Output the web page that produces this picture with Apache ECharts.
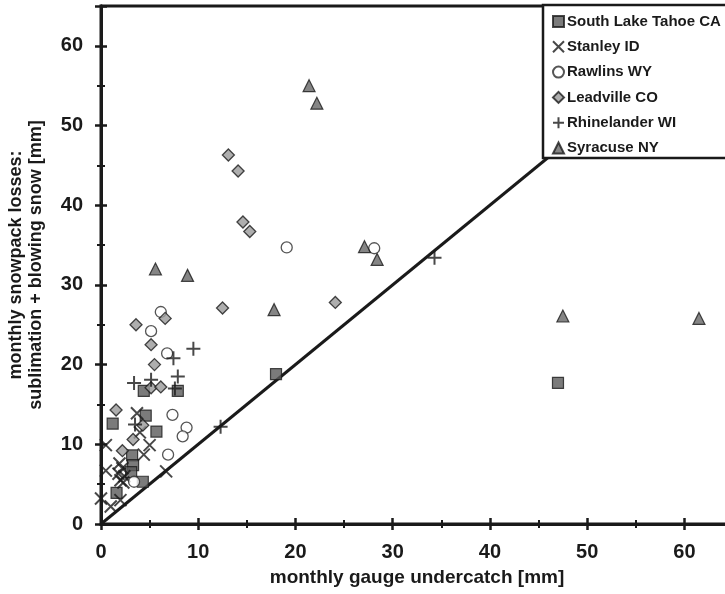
<!DOCTYPE html>
<html>
<head>
<meta charset="utf-8">
<script src="https://cdn.jsdelivr.net/npm/echarts@6/dist/echarts.min.js"></script>
<style>html,body{margin:0;padding:0;background:#fff}#chart{width:725px;height:594px}</style>
</head>
<body>
<div id="chart"></div>
<script>
// Data: [gauge undercatch, snowpack losses]
const southLakeTahoe = [[47.0,17.7],[18.0,18.8],[7.9,16.7],[4.4,16.7],[1.2,12.6],[4.6,13.6],[5.7,11.6],[3.2,8.6],[3.3,7.4],[3.1,6.5],[4.3,5.3],[1.6,3.9]];
const stanley = [[6.7,6.6],[3.7,13.9],[4.0,11.5],[5.0,9.9],[0.5,9.9],[4.4,8.7],[0.5,6.7],[1.9,7.6],[2.2,7.0],[1.8,6.3],[2.4,6.0],[2.0,5.5],[2.3,5.2],[0.0,3.2],[1.0,2.2],[2.0,3.0]];
const rawlins = [[19.1,34.7],[28.1,34.6],[6.15,26.6],[5.15,24.2],[6.8,21.4],[7.35,13.7],[8.8,12.1],[8.4,11.0],[6.9,8.7],[3.4,5.3]];
const leadville = [[13.1,46.3],[14.1,44.3],[14.6,37.9],[15.3,36.7],[12.5,27.1],[24.1,27.8],[3.6,25.0],[6.6,25.8],[5.15,22.5],[5.5,20.0],[5.15,17.1],[6.15,17.2],[1.55,14.3],[4.3,12.4],[3.3,10.6],[2.2,9.2]];
const rhinelander = [[34.3,33.4],[12.3,12.2],[9.5,22.0],[7.45,20.8],[7.9,18.5],[7.6,17.0],[3.4,17.7],[5.15,18.1],[3.5,12.5]];
const syracuse = [[21.4,55.0],[22.2,52.8],[5.6,32.0],[8.9,31.2],[17.8,26.9],[27.1,34.8],[28.4,33.2],[47.5,26.1],[61.5,25.8]];
const oneToOne = [0, 65];
const axisTicks = [0, 10, 20, 30, 40, 50, 60];

const seriesNames = ['South Lake Tahoe CA','Stanley ID','Rawlins WY','Leadville CO','Rhinelander WI','Syracuse NY'];
const FONT = 'Liberation Sans, Arial, sans-serif';
const INK = '#1a1a1a';

const chart = echarts.init(document.getElementById('chart'), null, {renderer: 'canvas'});

function axisPair(pos, extra) {
  const base = {
    type: 'value', min: 0, max: 65, interval: 10, position: pos,
    splitLine: {show: false},
    axisLine: {show: true, onZero: false, lineStyle: {color: INK, width: 3}},
    minorTick: {show: true, splitNumber: 2, length: 4, lineStyle: {color: INK, width: 2}},
    minorSplitLine: {show: false}
  };
  const outer = Object.assign({}, base, {
    gridIndex: 0,
    axisTick: {show: true, inside: false, length: 6, lineStyle: {color: INK, width: 2.5}},
    axisLabel: {show: true, fontFamily: FONT, fontWeight: 'bold', fontSize: 20, color: INK, margin: 18,
      showMaxLabel: false,
      formatter: v => axisTicks.indexOf(v) >= 0 ? String(v) : ''}
  }, extra);
  const inner = Object.assign({}, base, {
    gridIndex: 1,
    axisTick: {show: true, inside: true, length: 6, lineStyle: {color: INK, width: 2.5}},
    minorTick: {show: true, splitNumber: 2, length: 4, lineStyle: {color: INK, width: 2}},
    axisLabel: {show: false}
  });
  return [outer, inner];
}

const xAxes = axisPair('bottom', {
  name: 'monthly gauge undercatch [mm]', nameLocation: 'middle', nameGap: 44,
  nameTextStyle: {fontFamily: FONT, fontWeight: 'bold', fontSize: 19, color: INK}
});
const yAxes = axisPair('left', {
  name: 'monthly snowpack losses:\nsublimation + blowing snow [mm]', nameLocation: 'middle', nameGap: 55,
  nameTextStyle: {fontFamily: FONT, fontWeight: 'bold', fontSize: 18, color: INK, lineHeight: 20}
});

const gridRect = {left: 101, width: 632, top: 6, height: 518, outerBoundsMode: 'none', containLabel: false};

const scatterBase = {type: 'scatter', xAxisIndex: 0, yAxisIndex: 0, z: 3};

chart.setOption({
  animation: false,
  backgroundColor: '#fff',
  grid: [
    Object.assign({show: true, borderColor: INK, borderWidth: 3, backgroundColor: 'transparent'}, gridRect),
    Object.assign({show: false}, gridRect)
  ],
  xAxis: xAxes,
  yAxis: yAxes,
  graphic: [{
    type: 'rect', z: 8, silent: true,
    shape: {x: 543, y: 5, width: 220, height: 153},
    style: {fill: '#fff', stroke: INK, lineWidth: 2.5}
  }],
  legend: {
    data: seriesNames, orient: 'vertical', left: 543, top: 6,
    padding: [8, 10, 6, 9], itemGap: 10.3, itemWidth: 11, itemHeight: 11,
    backgroundColor: 'transparent', borderWidth: 0,
    textStyle: {fontFamily: FONT, fontWeight: 'bold', fontSize: 15, color: INK, padding: [0,0,0,-2]},
    z: 10
  },
  series: [
    {type: 'line', name: '1:1', data: [[oneToOne[0], oneToOne[0]], [oneToOne[1], oneToOne[1]]],
      showSymbol: false, symbol: 'none', lineStyle: {color: INK, width: 3}, z: 2, silent: true},
    Object.assign({}, scatterBase, {name: seriesNames[0], data: southLakeTahoe, symbol: 'rect', symbolSize: 11,
      itemStyle: {color: '#5a5a5a', borderColor: INK, borderWidth: 1.2}}),
    Object.assign({}, scatterBase, {name: seriesNames[1], data: stanley, symbol: 'path://M0,0L10,10M10,0L0,10', symbolSize: 12,
      itemStyle: {color: 'rgba(0,0,0,0)', borderColor: INK, borderWidth: 2}}),
    Object.assign({}, scatterBase, {name: seriesNames[2], data: rawlins, symbol: 'circle', symbolSize: 11,
      itemStyle: {color: '#fff', borderColor: '#2a2a2a', borderWidth: 1.3}}),
    Object.assign({}, scatterBase, {name: seriesNames[3], data: leadville, symbol: 'diamond', symbolSize: 12,
      itemStyle: {color: '#9a9a9a', borderColor: INK, borderWidth: 1.3}}),
    Object.assign({}, scatterBase, {name: seriesNames[4], data: rhinelander, symbol: 'path://M5,0L5,10M0,5L10,5', symbolSize: 14,
      itemStyle: {color: 'rgba(0,0,0,0)', borderColor: INK, borderWidth: 2}}),
    Object.assign({}, scatterBase, {name: seriesNames[5], data: syracuse, symbol: 'triangle', symbolSize: 12,
      itemStyle: {color: '#666', borderColor: INK, borderWidth: 1.2}})
  ]
});
</script>
</body>
</html>
